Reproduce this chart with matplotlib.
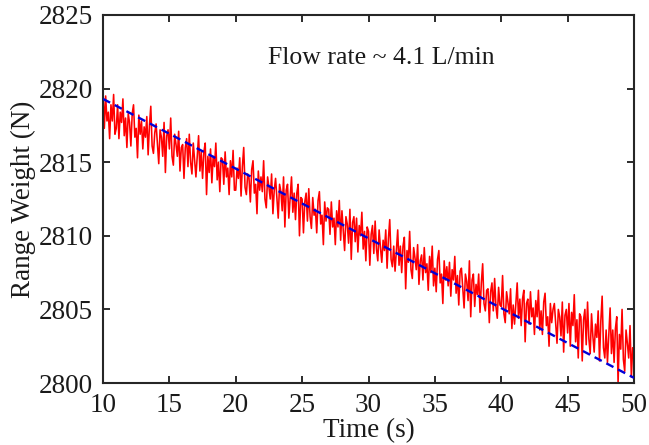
import numpy as np
import matplotlib
matplotlib.use("Agg")
import matplotlib.pyplot as plt

weight = [
    2819.9, 2817.3, 2819.5, 2817.8, 2818.4, 2816.6, 2818.9, 2817.8, 2819.6, 2816.9,
    2817.3, 2818.9, 2816.6, 2818.4, 2817.7, 2819.3, 2816.8, 2818.0, 2816.0, 2818.3,
    2817.7, 2816.1, 2818.3, 2818.9, 2816.7, 2817.3, 2815.3, 2818.2, 2816.9, 2817.8,
    2815.9, 2817.4, 2816.7, 2818.1, 2815.5, 2817.5, 2818.8, 2816.1, 2815.6, 2817.0,
    2817.6, 2816.2, 2814.9, 2817.2, 2816.7, 2815.4, 2817.7, 2814.3, 2816.8, 2817.2,
    2815.9, 2818.0, 2815.4, 2814.8, 2816.9, 2816.2, 2815.4, 2817.1, 2814.4, 2816.0,
    2816.2, 2813.9, 2816.0, 2816.6, 2814.7, 2816.9, 2815.0, 2814.2, 2816.3, 2815.1,
    2814.0, 2815.4, 2816.8, 2814.4, 2815.7, 2813.9, 2815.7, 2816.3, 2812.8, 2815.4,
    2814.3, 2815.9, 2813.6, 2815.4, 2814.7, 2816.3, 2813.8, 2815.0, 2813.0, 2815.3,
    2815.2, 2813.5, 2815.7, 2814.0, 2814.6, 2812.8, 2815.1, 2814.0, 2815.8, 2813.1,
    2813.1, 2814.6, 2813.9, 2815.3, 2812.7, 2814.7, 2816.0, 2813.3, 2812.8, 2814.2,
    2813.9, 2812.3, 2814.5, 2815.1, 2812.9, 2813.5, 2811.5, 2814.4, 2813.1, 2814.0,
    2813.0, 2815.1, 2812.5, 2811.9, 2814.0, 2813.3, 2812.5, 2814.2, 2811.5, 2813.1,
    2813.9, 2812.5, 2811.2, 2813.5, 2813.0, 2811.7, 2814.0, 2810.6, 2813.1, 2813.5,
    2811.2, 2812.6, 2814.0, 2811.6, 2812.9, 2811.1, 2812.9, 2813.5, 2810.0, 2812.6,
    2812.5, 2810.2, 2812.3, 2812.9, 2811.0, 2813.2, 2811.3, 2810.5, 2812.6, 2811.4,
    2811.8, 2810.2, 2812.4, 2813.0, 2810.8, 2811.4, 2809.4, 2812.3, 2811.0, 2811.9,
    2811.8, 2810.1, 2812.3, 2810.6, 2811.2, 2809.4, 2811.7, 2810.6, 2812.4, 2809.7,
    2811.7, 2810.3, 2809.0, 2811.3, 2810.8, 2809.5, 2811.8, 2808.4, 2810.9, 2811.3,
    2809.6, 2811.2, 2808.9, 2810.7, 2810.0, 2811.6, 2809.1, 2810.3, 2808.3, 2810.6,
    2810.3, 2808.0, 2810.1, 2810.7, 2808.8, 2811.0, 2809.1, 2808.3, 2810.4, 2809.2,
    2808.2, 2809.7, 2809.0, 2810.4, 2807.8, 2809.8, 2811.1, 2808.4, 2807.9, 2809.3,
    2807.6, 2809.0, 2810.4, 2808.0, 2809.3, 2807.5, 2809.3, 2809.9, 2806.4, 2809.0,
    2808.2, 2810.3, 2807.7, 2807.1, 2809.2, 2808.5, 2807.7, 2809.4, 2806.7, 2808.3,
    2808.7, 2807.0, 2809.2, 2807.5, 2808.1, 2806.3, 2808.6, 2807.5, 2809.3, 2806.6,
    2807.8, 2806.2, 2808.4, 2809.0, 2806.8, 2807.4, 2805.4, 2808.3, 2807.0, 2807.9,
    2806.6, 2808.2, 2805.9, 2807.7, 2807.0, 2808.6, 2806.1, 2807.3, 2805.3, 2807.6,
    2807.8, 2806.4, 2805.1, 2807.4, 2806.9, 2805.6, 2808.3, 2804.5, 2807.0, 2807.4,
    2805.2, 2806.7, 2806.0, 2807.4, 2804.8, 2806.8, 2808.1, 2805.4, 2804.9, 2806.3,
    2806.4, 2804.1, 2806.2, 2806.8, 2804.9, 2807.1, 2805.2, 2804.4, 2806.5, 2805.3,
    2805.2, 2807.3, 2804.7, 2804.1, 2806.2, 2805.5, 2804.7, 2806.4, 2803.7, 2805.3,
    2804.0, 2805.4, 2806.8, 2804.4, 2805.7, 2803.9, 2805.7, 2806.3, 2802.8, 2805.4,
    2805.7, 2804.0, 2806.2, 2804.5, 2805.1, 2803.3, 2805.6, 2804.5, 2806.3, 2803.6,
    2804.9, 2803.3, 2805.5, 2806.1, 2803.9, 2804.5, 2802.5, 2805.4, 2804.1, 2805.0,
    2805.4, 2804.0, 2802.7, 2805.0, 2804.5, 2803.2, 2805.5, 2802.1, 2804.6, 2805.0,
    2803.4, 2805.4, 2802.5, 2804.8, 2803.9, 2806.0, 2802.8, 2804.3, 2801.7, 2804.7,
    2804.5, 2801.5, 2804.3, 2805.0, 2802.6, 2805.5, 2803.0, 2802.0, 2804.7, 2803.2,
    2802.1, 2804.0, 2803.1, 2804.9, 2801.5, 2804.2, 2805.9, 2802.4, 2801.7, 2803.6,
    2801.4, 2803.3, 2805.1, 2802.0, 2803.6, 2801.4, 2803.7, 2804.5, 2800.0, 2803.3,
    2802.3, 2805.0, 2801.6, 2800.8, 2803.6, 2802.7, 2801.7, 2803.9, 2800.4, 2802.4,
    2801.5,
]
t_start, t_end = 10, 50

# Linear fit (dashed line) endpoints
fit_t = [10, 50]
fit_w = [2819.3, 2800.35]

x_ticks = [10, 15, 20, 25, 30, 35, 40, 45, 50]
y_ticks = [2800, 2805, 2810, 2815, 2820, 2825]
annotation = "Flow rate ~ 4.1 L/min"

plt.rcParams['font.family'] = ['Liberation Serif', 'DejaVu Serif']

time = np.linspace(t_start, t_end, len(weight))

fig = plt.figure(figsize=(6.49, 4.45), dpi=100)
ax = fig.add_axes([0.1587, 0.1393, 0.8182, 0.827])

ax.plot(time, weight, color='#ff0000', lw=1.15, zorder=2)
line, = ax.plot(fit_t, fit_w, color='#0000d8', lw=1.7, zorder=3)
line.set_dashes((3.4, 2.2))

ax.set_xlim(10, 50)
ax.set_ylim(2800, 2825)
ax.set_xticks(x_ticks)
ax.set_yticks(y_ticks)
ax.tick_params(direction='in', top=True, right=True, length=5, width=1.3,
               labelsize=19.5, colors='#1a1a1a', pad=7)
for s in ax.spines.values():
    s.set_linewidth(1.5)
    s.set_color('#262626')

ax.set_xlabel('Time (s)', fontsize=19.5, labelpad=0, color='#1a1a1a')
ax.set_ylabel('Range Weight (N)', fontsize=19.5, labelpad=2, color='#1a1a1a')
ax.text(31.0, 2822.1, annotation, fontsize=18.5, ha='center', va='center', color='#1a1a1a')

fig.savefig('out.png', dpi=100)
